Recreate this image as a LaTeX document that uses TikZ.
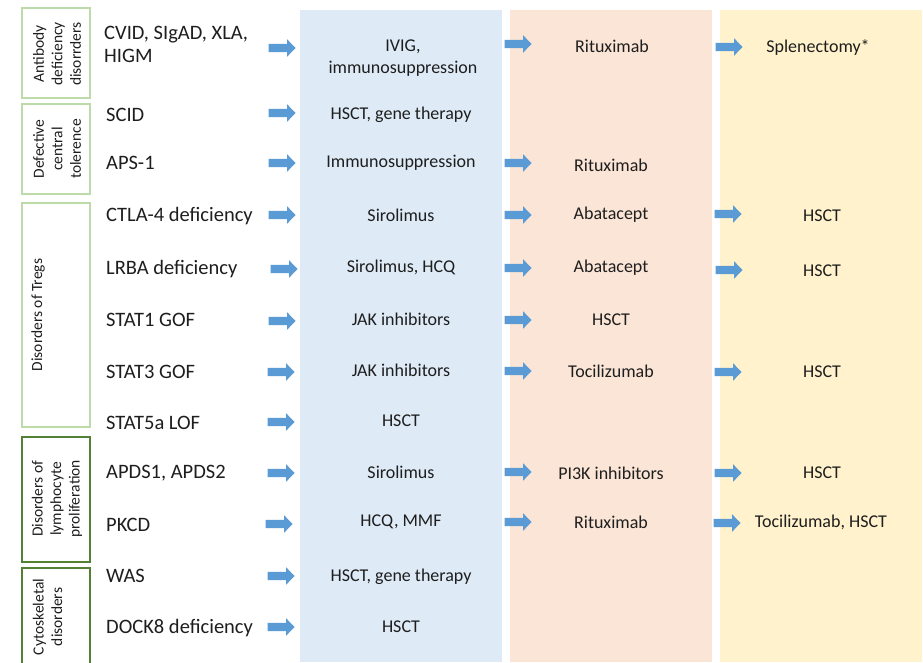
\documentclass[tikz,border=0pt]{standalone}
\usepackage{fontspec}
\setmainfont{Carlito}
\usetikzlibrary{shapes.arrows}
\definecolor{colblue}{HTML}{DEEBF7}
\definecolor{colpeach}{HTML}{FBE5D6}
\definecolor{colyellow}{HTML}{FFF2CC}
\definecolor{arrblue}{HTML}{5B9BD5}
\definecolor{lightgreen}{HTML}{BCDBA8}
\definecolor{darkgreen}{HTML}{548235}
\definecolor{txt}{HTML}{1E1E1E}
\begin{document}
\begin{tikzpicture}[x=1pt,y=-1pt,
  barr/.style={fill=arrblue, draw=none, single arrow, minimum height=27pt, inner xsep=0pt, inner ysep=4pt, single arrow head extend=4.5pt, single arrow tip angle=92},
  dis/.style={anchor=west, font=\fontsize{20.5}{23}\selectfont, text=txt, inner sep=0pt, align=left},
  trt/.style={font=\fontsize{18}{22}\selectfont, text=txt, inner sep=0pt, align=center},
  colbox/.style={draw=none, inner sep=0pt, minimum width=202pt, minimum height=652pt},
  catbox/.style={draw=#1, line width=1.6pt, inner sep=0pt, minimum width=68pt},
  catlab/.style={rotate=90, font=\fontsize{15.5}{18.5}\selectfont, align=center, inner sep=0pt, text=txt}
]
\useasboundingbox (0,0) rectangle (923,663);
\fill[white] (0,0) rectangle (923,663);
% columns
\node[colbox, fill=colblue] (c1) at (401,336) {};
\node[colbox, fill=colpeach] (c2) at (611,336) {};
\node[colbox, fill=colyellow] (c3) at (821,336) {};
% category boxes
\node[catbox=lightgreen, minimum height=90pt] (b1) at (56,53) {};
\node[catbox=lightgreen, minimum height=90pt] (b2) at (56,149) {};
\node[catbox=lightgreen, minimum height=224pt] (b3) at (56,315) {};
\node[catbox=darkgreen, minimum height=125pt] (b4) at (56,499.5) {};
\node[catbox=darkgreen, minimum height=110pt] (b5) at (56,623) {};
\node[catlab] (l1) at (57,54) {Antibody\\deficiency\\disorrders};
\node[catlab] (l2) at (57,149) {Defective\\central\\tolerence};
\node[catlab] (l3) at (38,315) {Disorders of Tregs};
\node[catlab] (l4) at (57,499) {Disorders of\\lymphocyte\\proliferation};
\node[catlab] (l5) at (47.5,617) {Cytoskeletal\\disorders};
% diseases
\node[dis] (d1) at (104,44) {CVID, SIgAD, XLA,\\HIGM};
\node[dis] (d2) at (106,115) {SCID};
\node[dis] (d3) at (106,163) {APS-1};
\node[dis] (d4) at (106,216) {CTLA-4 deficiency};
\node[dis] (d5) at (106,269) {LRBA deficiency};
\node[dis] (d6) at (106,320) {STAT1 GOF};
\node[dis] (d7) at (106,372) {STAT3 GOF};
\node[dis] (d8) at (106,423) {STAT5a LOF};
\node[dis] (d9) at (106,473) {APDS1, APDS2};
\node[dis] (d10) at (106,525) {PKCD};
\node[dis] (d11) at (106,576) {WAS};
\node[dis] (d12) at (106,628) {DOCK8 deficiency};
% arrows column 1
\node[barr] (a1) at (280,48) {};
\node[barr] (a2) at (280,113) {};
\node[barr] (a3) at (280,163) {};
\node[barr] (a4) at (280,215) {};
\node[barr] (a5) at (282,269) {};
\node[barr] (a6) at (280,321) {};
\node[barr] (a7) at (279,372) {};
\node[barr] (a8) at (279,422) {};
\node[barr] (a9) at (279,473) {};
\node[barr] (a10) at (277,524) {};
\node[barr] (a11) at (279,576) {};
\node[barr] (a12) at (279,627) {};
% treatments column 1
\node[trt] (t1) at (403,58) {IVIG,\\immunosuppression};
\node[trt] (t2) at (401,115) {HSCT, gene therapy};
\node[trt] (t3) at (401,163) {Immunosuppression};
\node[trt] (t4) at (401,215) {Sirolimus};
\node[trt] (t5) at (401,267) {Sirolimus, HCQ};
\node[trt] (t6) at (401,319) {JAK inhibitors};
\node[trt] (t7) at (401,370) {JAK inhibitors};
\node[trt] (t8) at (401,421) {HSCT};
\node[trt] (t9) at (401,472) {Sirolimus};
\node[trt] (t10) at (401,522) {HCQ, MMF};
\node[trt] (t11) at (401,577) {HSCT, gene therapy};
\node[trt] (t12) at (401,627) {HSCT};
% arrows column 2
\node[barr] (e1) at (516,44) {};
\node[barr] (e3) at (516,163) {};
\node[barr] (e4) at (516,215) {};
\node[barr] (e5) at (516,268) {};
\node[barr] (e6) at (516,320) {};
\node[barr] (e7) at (516,371) {};
\node[barr] (e9) at (516,472) {};
\node[barr] (e10) at (516,522) {};
% treatments column 2
\node[trt] (s1) at (612,46) {Rituximab};
\node[trt] (s3) at (611,165) {Rituximab};
\node[trt] (s4) at (611,215) {Abatacept};
\node[trt] (s5) at (611,268) {Abatacept};
\node[trt] (s6) at (611,320) {HSCT};
\node[trt] (s7) at (611,371) {Tocilizumab};
\node[trt] (s9) at (611,473) {PI3K inhibitors};
\node[trt] (s10) at (611,522) {Rituximab};
% arrows column 3
\node[barr] (f1) at (727,47) {};
\node[barr] (f4) at (726,214) {};
\node[barr] (f5) at (727,270) {};
\node[barr] (f7) at (726,372) {};
\node[barr] (f9) at (726,473) {};
\node[barr] (f10) at (725,523) {};
% treatments column 3
\node[trt] (r1) at (818,48) {Splenectomy*};
\node[trt] (r4) at (822,216) {HSCT};
\node[trt] (r5) at (822,271) {HSCT};
\node[trt] (r7) at (822,372) {HSCT};
\node[trt] (r9) at (822,473) {HSCT};
\node[trt] (r10) at (821,522) {Tocilizumab, HSCT};
\end{tikzpicture}
\end{document}
